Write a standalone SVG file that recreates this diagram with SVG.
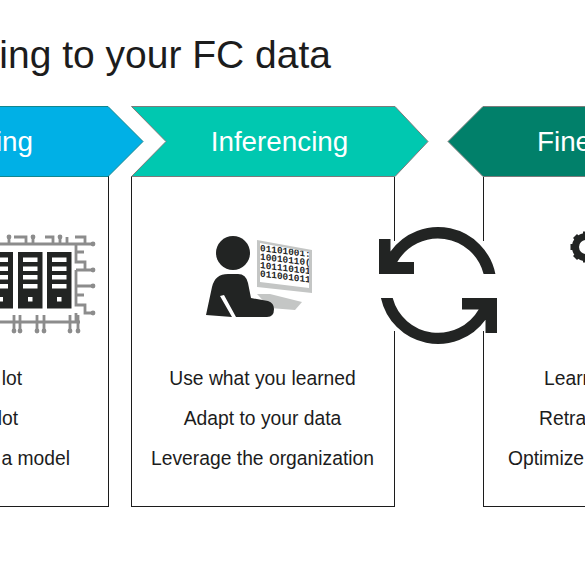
<svg xmlns="http://www.w3.org/2000/svg" width="585" height="563" viewBox="0 0 585 563">
<style>
text{font-family:"Liberation Sans",Arial,sans-serif}
.t{font-size:39px;fill:#1c1c1c}
.h{font-size:27.800px;fill:#fff}
.b{font-size:19.300px;fill:#1c1c1c}
.box{fill:#fff;stroke:#1c1c1c;stroke-width:1}
.d{fill:#222423}
.w{fill:#fff}
.g{fill:none;stroke:#8c8c8c;stroke-width:2.800}
.n{fill:#8c8c8c}
.bin{font-family:"Liberation Mono",monospace;font-weight:700;font-size:9.400px;fill:#222423}
</style>
<defs>
<g id="rack"><rect width="24.500" height="56.500" class="d"/><rect x="5" y="5.500" width="14.500" height="4.500" class="w"/><rect x="5" y="14.500" width="14.500" height="4.500" class="w"/><rect x="5" y="23" width="14.500" height="4.500" class="w"/><rect x="5" y="32" width="14.500" height="4.500" class="w"/><rect x="10" y="45" width="4.500" height="4.500" class="w"/></g>
<clipPath id="screen"><path d="M260 243L309 252V288L260 282Z"/></clipPath>
</defs>
<rect width="585" height="563" fill="#fff"/>
<text id="title" class="t" x="331" y="68" text-anchor="end">ing to your FC data</text>

<g id="training">
<rect class="box" x="-5" y="176.500" width="113.500" height="330"/>
<path d="M-5 106.500H108L143 141.500L108 176.500H-5Z" fill="#00b0e6" stroke="#12868f" stroke-width="1"/>
<text class="h" x="33" y="151" text-anchor="end">ing</text>
<g id="server-icon">
<path class="g" d="M0 244H93M9 237V244M14 237H26V244M33 237V244M45 237H53V244M60 237V244M67 237V244M75 237H85V244M76 244V252H84M76 252V262H85V270H93M76 270H86M76 270V286H93M76 286V295H84M76 295V305H85V313H93M76 313V322M0 322H80M14 315V331M20 315V331M37 315V331M44 315V331M54 322H50M70 315V331M78 315V331"/>
<g class="n"><circle cx="93" cy="244" r="2.400"/><circle cx="93" cy="270" r="2.400"/><circle cx="93" cy="286" r="2.400"/><circle cx="93" cy="313" r="2.400"/><circle cx="14" cy="331" r="2.400"/><circle cx="20" cy="331" r="2.400"/><circle cx="37" cy="331" r="2.400"/><circle cx="44" cy="331" r="2.400"/><circle cx="70" cy="331" r="2.400"/><circle cx="78" cy="331" r="2.400"/><circle cx="9" cy="237" r="2.400"/><circle cx="33" cy="237" r="2.400"/><circle cx="60" cy="237" r="2.400"/></g>
<use href="#rack" x="-11.500" y="252"/>
<use href="#rack" x="18" y="252"/>
<use href="#rack" x="47" y="252"/>
</g>
<text class="b" x="22" y="385" text-anchor="end">lot</text>
<text class="b" x="18" y="425" text-anchor="end">lot</text>
<text class="b" x="70" y="465" text-anchor="end">a model</text>
</g>

<g id="inferencing">
<rect class="box" x="131.500" y="176.500" width="263" height="330"/>
<path d="M131.500 106.500H395L428 141.500L395 176.500H131.500L166 141.500Z" fill="#00c8b0" stroke="#7b7b7b" stroke-width="1"/>
<text class="h" x="279.500" y="151" text-anchor="middle">Inferencing</text>
<g id="person-icon">
<path d="M257 240L312 250V293L257 287Z" fill="#c4c6c5"/>
<path d="M260 243L309 252V288L260 282Z" fill="#fff"/>
<g clip-path="url(#screen)"><g transform="translate(260 0) skewY(7)">
<text class="bin" x="0" y="251">01101001:</text>
<text class="bin" x="0" y="259.500">10010110(</text>
<text class="bin" x="0" y="268">101110101</text>
<text class="bin" x="0" y="276.500">011001011</text>
</g></g>
<path d="M257 294L270 294L302 302L295 310L270 308Z" fill="#c4c6c5"/>
<circle class="d" cx="233" cy="253" r="17"/>
<path class="d" d="M206 315L212 287Q215 274 228 274H238Q246 274 248 283L251 298L268 301Q274 303 274 309Q274 317 267 317H236L224 295L220 296L232 317Z"/>
</g>
<text class="b" x="262.500" y="385" text-anchor="middle">Use what you learned</text>
<text class="b" x="262.500" y="425" text-anchor="middle">Adapt to your data</text>
<text class="b" x="262.500" y="465" text-anchor="middle">Leverage the organization</text>
</g>

<g id="fine">
<rect class="box" x="483.500" y="176.500" width="120" height="330"/>
<path d="M590 106.500H483L448 141.500L483 176.500H590Z" fill="#01806a" stroke="#7b7b7b" stroke-width="1"/>
<text class="h" x="537" y="151">Fine</text>
<g id="gear-icon" transform="translate(586 247)">
<circle r="10.500" fill="none" stroke="#222423" stroke-width="7"/>
<path class="d" d="M-3-15.500H3V-11H-3ZM-3 11H3V15.500H-3ZM-15.500-3H-11V3H-15.500ZM-13-9L-9-13L-6-10L-10-6ZM-13 9L-9 13L-6 10L-10 6Z"/>
</g>
<text class="b" x="544" y="385">Learn</text>
<text class="b" x="539" y="425">Retrain</text>
<text class="b" x="508" y="465">Optimize</text>
</g>

<g id="connectors">
<rect x="378" y="241" width="120" height="90" class="w"/>
<path class="d" d="M495.400 274A58.500 58.500 0 0 0 390.500 251.400V239H379V274H414V262H397.300A47 47 0 0 1 483.600 274Z"/>
<path class="d" d="M380.900 298A58.500 58.500 0 0 0 485.500 319.800V333H497V298H462V309.500H478.700A47 47 0 0 1 392.700 298Z"/>
</g>
</svg>
